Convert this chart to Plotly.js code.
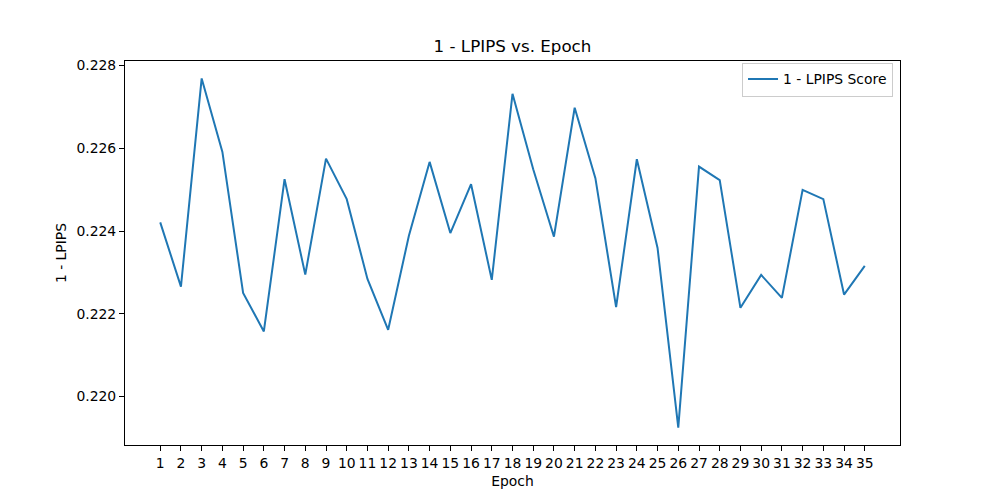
<!DOCTYPE html>
<html>
<head>
<meta charset="utf-8">
<script src="https://cdn.plot.ly/plotly-3.0.1.min.js"></script>
<style>html,body{margin:0;padding:0;background:#fff;}#chart{width:1000px;height:500px;}</style>
</head>
<body>
<div id="chart"></div>
<script>
const epochs = [1,2,3,4,5,6,7,8,9,10,11,12,13,14,15,16,17,18,19,20,21,22,23,24,25,26,27,28,29,30,31,32,33,34,35];
const scores = [0.224208,0.222658,0.227686,0.225911,0.222505,0.221573,0.225252,0.222947,0.225750,0.224770,
                0.222843,0.221614,0.223887,0.225670,0.223951,0.225132,0.222819,0.227316,0.225493,0.223863,
                0.226979,0.225276,0.222160,0.225734,0.223590,0.219252,0.225557,0.225228,0.222144,0.222939,
                0.222385,0.224995,0.224770,0.222465,0.223156];
const yTicks = [0.220,0.222,0.224,0.226,0.228];
const seriesName = "1 - LPIPS Score";

const ymin = Math.min(...scores), ymax = Math.max(...scores);
const ypad = (ymax - ymin) * 0.05;
const xpad = (epochs[epochs.length-1] - epochs[0]) * 0.05;

const font = {family: "DejaVu Sans, sans-serif", size: 13.9, color: "#000"};

const trace = {
  x: epochs, y: scores, type: "scatter", mode: "lines", name: seriesName,
  line: {color: "#1f77b4", width: 2}
};

const layout = {
  width: 1000, height: 500,
  margin: {l: 125, r: 100, t: 61, b: 55},
  paper_bgcolor: "#fff", plot_bgcolor: "#fff",
  font: font,
  title: {text: "1 - LPIPS vs. Epoch", font: {family: "DejaVu Sans, sans-serif", size: 16.7, color: "#000"}, x: 0.5125, xanchor: "center", y: 0.908, yanchor: "middle"},
  showlegend: true,
  legend: {x: 0.991, y: 0.996, xanchor: "right", yanchor: "top", bgcolor: "rgba(255,255,255,0.8)", bordercolor: "#cccccc", borderwidth: 1, font: font, tracegroupgap: 0},
  xaxis: {
    range: [epochs[0] - xpad, epochs[epochs.length-1] + xpad],
    tickmode: "array", tickvals: epochs, ticktext: epochs.map(String),
    showgrid: false, zeroline: false, showline: true, linecolor: "#000", linewidth: 1, mirror: true,
    ticks: "outside", ticklen: 5, tickcolor: "#000", tickwidth: 1,
    title: {text: "Epoch", font: font, standoff: 6}
  },
  yaxis: {
    range: [ymin - ypad, ymax + ypad],
    tickmode: "array", tickvals: yTicks, ticktext: yTicks.map(v => v.toFixed(3)),
    showgrid: false, zeroline: false, showline: true, linecolor: "#000", linewidth: 1, mirror: true,
    ticks: "outside", ticklen: 5, tickcolor: "#000", tickwidth: 1,
    title: {text: "1 - LPIPS", font: font, standoff: 6}
  }
};

Plotly.newPlot("chart", [trace], layout, {displayModeBar: false, staticPlot: true});
</script>
</body>
</html>
